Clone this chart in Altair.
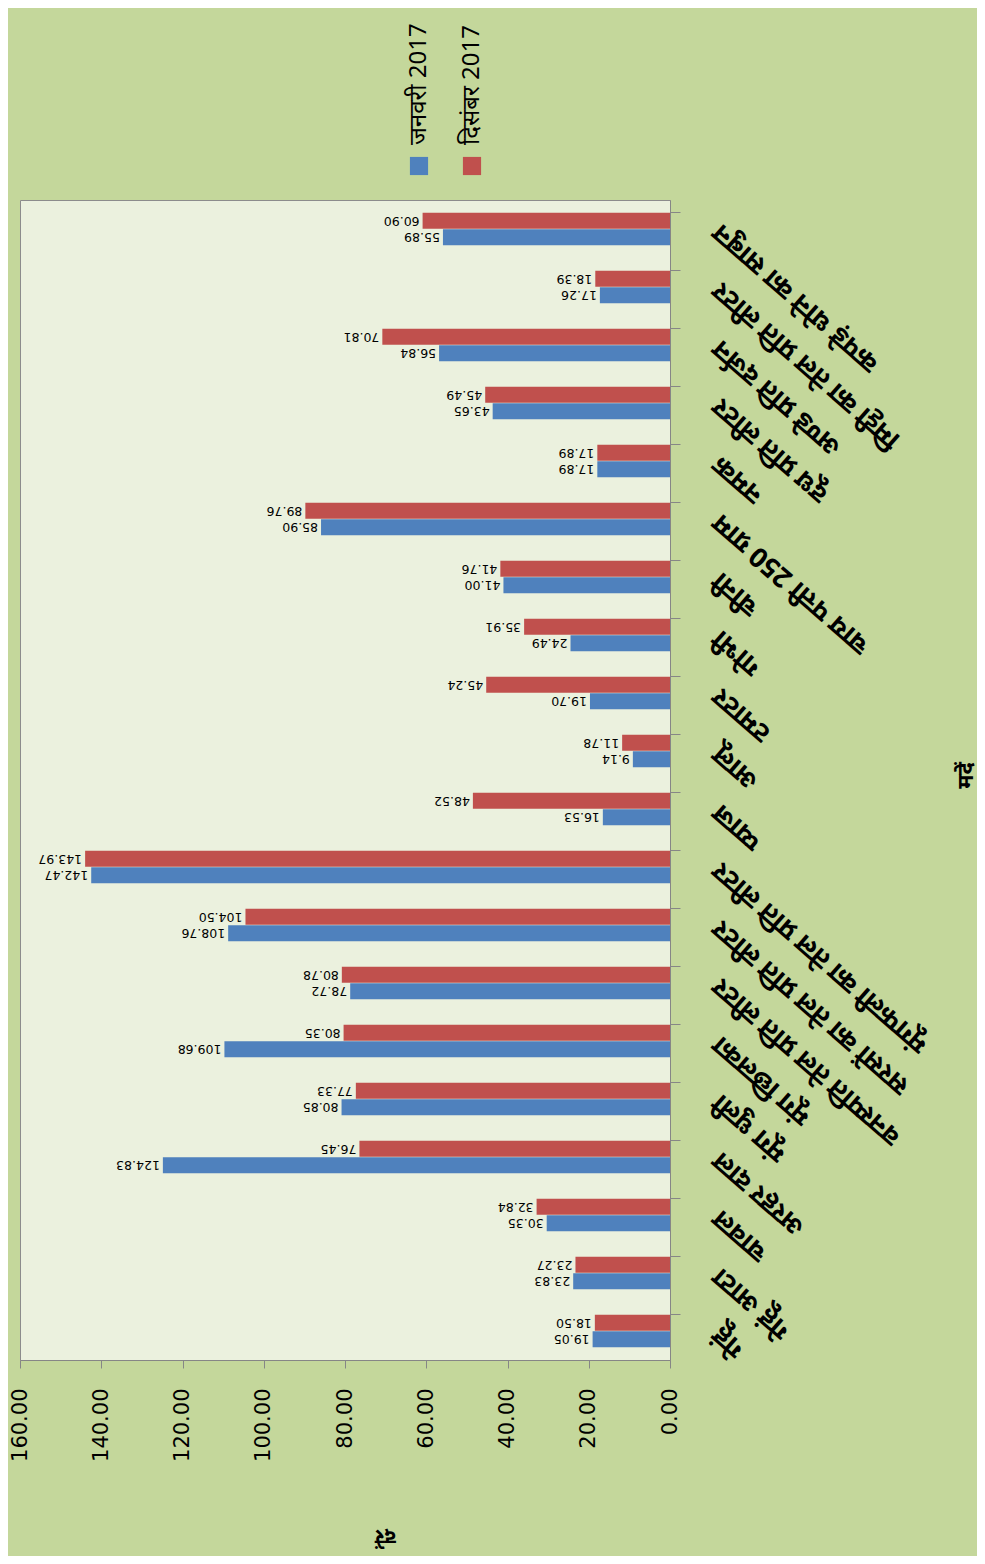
import altair as alt
import pandas as pd

# categories in the original chart order (first = bottom of the picture)
categories = [
    "गेहूं",
    "गेहूं आटा",
    "चावल",
    "अरहर दाल",
    "मूंग धुली",
    "मूंग छिलका",
    "वनस्पति तेल प्रति लीटर",
    "सरसों का तेल प्रति लीटर",
    "मूंगफली का तेल प्रति लीटर",
    "प्याज",
    "आलू",
    "टमाटर",
    "गोभी",
    "चीनी",
    "चाय पत्ती 250 ग्राम",
    "नमक",
    "दूध प्रति लीटर",
    "अण्डे प्रति दर्जन",
    "मिट्टी का तेल प्रति लीटर",
    "कपड़े धोने का साबुन",
]
series_names = ["जनवरी 2017", "दिसंबर 2017"]
values_jan = [19.05, 23.83, 30.35, 124.83, 80.85, 109.68, 78.72, 108.76, 142.47, 16.53,
              9.14, 19.70, 24.49, 41.00, 85.90, 17.89, 43.65, 56.84, 17.26, 55.89]
values_dec = [18.50, 23.27, 32.84, 76.45, 77.33, 80.35, 80.78, 104.50, 143.97, 48.52,
              11.78, 45.24, 35.91, 41.76, 89.76, 17.89, 45.49, 70.81, 18.39, 60.90]
axis_ticks = [0, 20, 40, 60, 80, 100, 120, 140, 160]
x_title = "दरें"
y_title = "मदें"

rows = []
for c, a, b in zip(categories, values_jan, values_dec):
    rows.append({"cat": c, "series": series_names[0], "value": a})
    rows.append({"cat": c, "series": series_names[1], "value": b})
df = pd.DataFrame(rows)
legend_df = pd.DataFrame({"series": series_names})

colors = ["#4F81BD", "#C0504D"]
dev_font = "Noto Sans"

x_enc = alt.X(
    "value:Q",
    scale=alt.Scale(domain=[0, 160], reverse=True, nice=False),
    axis=alt.Axis(
        values=axis_ticks, format=".2f", labelAngle=270, labelAlign="right",
        labelBaseline="middle", labelFont="DejaVu Sans", labelFontSize=21,
        labelColor="#000000", labelPadding=20, tickSize=8, tickColor="#868686",
        domainColor="#868686", grid=False, title=x_title, titleAngle=180,
        titleFont=dev_font, titleFontSize=21, titleFontWeight="bold",
        titleColor="#000000", titleX=365, titleY=175,
        titleAlign="center", titleBaseline="middle",
    ),
)
y_enc = alt.Y(
    "cat:N",
    sort=categories,
    scale=alt.Scale(reverse=True, paddingInner=0.43, paddingOuter=0.215),
    axis=alt.Axis(
        orient="right", labelAngle=221, labelAlign="right", labelBaseline="middle",
        labelFont=dev_font, labelFontSize=27, labelFontWeight="bold",
        labelColor="#000000", labelPadding=36, labelLimit=500, tickSize=10,
        tickColor="#868686", domainColor="#868686", bandPosition=0,
        title=y_title, titleAngle=270, titleFont=dev_font, titleFontSize=22,
        titleFontWeight="bold", titleColor="#000000",
        titleX=295, titleY=575, titleAlign="center", titleBaseline="middle",
    ),
)
color_enc = alt.Color(
    "series:N", scale=alt.Scale(domain=series_names, range=colors), legend=None
)
yoff = alt.YOffset("series:N", scale=alt.Scale(domain=series_names[::-1]))

bars = alt.Chart(df).mark_bar(size=16).encode(
    x=x_enc, y=y_enc, yOffset=yoff, color=color_enc
)
labels = alt.Chart(df).mark_text(
    angle=180, align="left", baseline="middle", dx=3, fontSize=12.5,
    font="DejaVu Sans", color="#000000",
).encode(
    x=alt.X("value:Q"), y=alt.Y("cat:N", sort=categories), yOffset=yoff,
    text=alt.Text("value:Q", format=".2f"),
)

leg_x = alt.X("series:N",
              scale=alt.Scale(type="point", padding=0, domain=series_names, range=[399, 452]),
              axis=None)
legend_sq = alt.Chart(legend_df).mark_square(size=330, opacity=1).encode(
    x=leg_x, y=alt.value(-34), color=color_enc
)
legend_txt = alt.Chart(legend_df).mark_text(
    angle=270, align="left", baseline="middle", fontSize=24,
    font=dev_font, color="#000000",
).encode(x=leg_x, y=alt.value(-55), text="series:N")
legend_layer = alt.layer(legend_sq, legend_txt)

main = alt.layer(bars, labels)
chart = alt.layer(main, legend_layer).resolve_scale(x="independent").properties(
    width=650, height=1160,
    background="#C4D79B",
    autosize=alt.AutoSizeParams(type="none"),
    padding={"left": 12, "top": 192, "right": 307, "bottom": 196},
).configure_view(fill="#EBF1DE", stroke="#8C8C8C", strokeWidth=1)

chart.save("out.html", embed_options={"renderer": "svg", "actions": False})
